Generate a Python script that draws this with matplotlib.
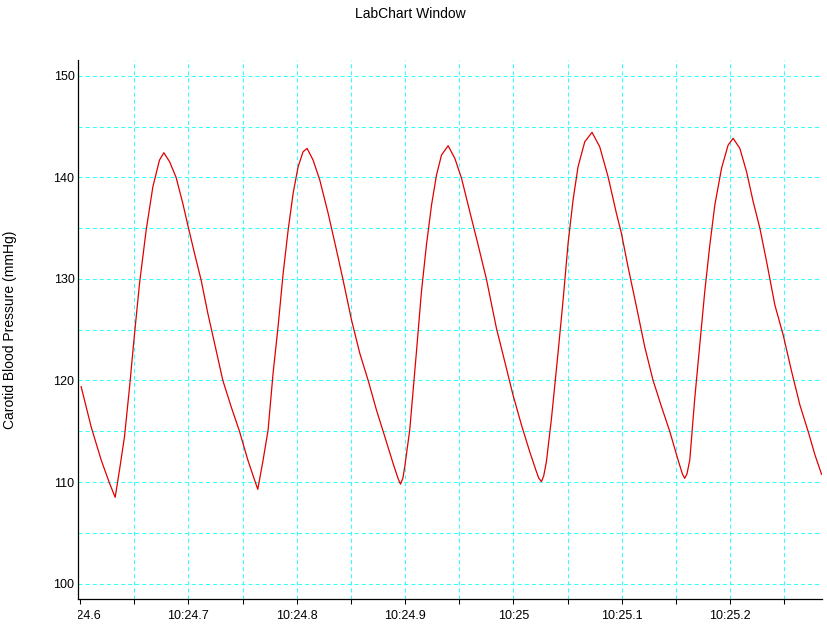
import matplotlib
matplotlib.use("Agg")
import matplotlib.pyplot as plt
from matplotlib.transforms import Bbox, TransformedBbox, blended_transform_factory, ScaledTranslation

plt.rcParams['font.family'] = ['Liberation Sans', 'DejaVu Sans']
plt.rcParams['lines.scale_dashes'] = False

# time in seconds (after 10 min) and carotid pressure (mmHg)
time_s = [
    24.6011, 24.6103, 24.6196, 24.6273, 24.6325, 24.6365, 24.6411, 24.6458,
    24.6504, 24.6550, 24.6611, 24.6673, 24.6734, 24.6774, 24.6827, 24.6887,
    24.6949, 24.7002, 24.7057, 24.7118, 24.7180, 24.7242, 24.7318, 24.7395,
    24.7472, 24.7549, 24.7611, 24.7641,
    24.7690, 24.7736, 24.7782, 24.7828, 24.7875, 24.7921, 24.7967, 24.8013,
    24.8059, 24.8096, 24.8151, 24.8213, 24.8290, 24.8367, 24.8428, 24.8506,
    24.8582, 24.8659, 24.8736, 24.8813, 24.8889, 24.8937, 24.8958, 24.8980,
    24.8997, 24.9043, 24.9105, 24.9151, 24.9197, 24.9244, 24.9290, 24.9336,
    24.9397, 24.9459, 24.9521, 24.9597, 24.9674, 24.9751, 24.9843, 24.9920,
    24.9996, 25.0074, 25.0150, 25.0212, 25.0233, 25.0258, 25.0279,
    25.0304, 25.0351, 25.0411, 25.0458, 25.0504, 25.0550, 25.0596, 25.0658,
    25.0725, 25.0796, 25.0873, 25.0950, 25.0996, 25.1057, 25.1135, 25.1211,
    25.1288, 25.1366, 25.1442, 25.1519, 25.1559, 25.1580, 25.1601,
    25.1627, 25.1673, 25.1719, 25.1765, 25.1812, 25.1858, 25.1920, 25.1981,
    25.2027, 25.2089, 25.2151, 25.2212, 25.2274, 25.2336, 25.2412, 25.2489,
    25.2567, 25.2643, 25.2720, 25.2782, 25.2843,
]
pressure = [
    119.39, 115.45, 112.17, 109.88, 108.50, 111.19, 114.47, 119.39,
    124.64, 129.57, 134.81, 139.08, 141.70, 142.42, 141.54, 140.00,
    137.44, 134.98, 132.52, 129.89, 126.61, 123.66, 120.02, 117.42,
    115.00, 112.17, 110.21, 109.29,
    112.17, 115.13, 120.71, 125.30, 130.55, 134.81, 138.43, 141.04,
    142.52, 142.85, 141.70, 139.73, 136.46, 132.84, 129.89, 125.95,
    122.68, 120.02, 117.09, 114.47, 111.85, 110.30, 109.80, 110.40,
    111.52, 115.13, 122.84, 128.74, 133.34, 137.27, 140.23, 142.19,
    143.11, 141.87, 139.90, 136.62, 133.34, 129.96, 125.14, 121.85,
    118.57, 115.62, 112.99, 111.02, 110.40, 110.04, 110.60,
    112.01, 116.28, 122.68, 127.92, 133.50, 137.77, 141.04, 143.50,
    144.43, 143.01, 140.06, 136.46, 134.49, 131.20, 127.26, 123.33,
    120.02, 117.42, 115.00, 112.17, 110.80, 110.37, 110.80,
    112.17, 118.25, 123.49, 128.74, 133.34, 137.27, 140.89, 143.18,
    143.84, 142.85, 140.55, 137.60, 134.98, 131.69, 127.43, 124.48,
    120.87, 117.59, 114.96, 112.67, 110.77,
]

x_major = [24.6, 24.7, 24.8, 24.9, 25.0, 25.1, 25.2]
x_labels = ["10:24.6", "10:24.7", "10:24.8", "10:24.9", "10:25", "10:25.1", "10:25.2"]
x_minor = [24.65, 24.75, 24.85, 24.95, 25.05, 25.15, 25.25]
y_major = [100, 110, 120, 130, 140, 150]
y_minor = [105, 115, 125, 135, 145]

W, H = 827, 628
fig = plt.figure(figsize=(W / 100, H / 100), dpi=100)
ax = fig.add_axes([78 / W, 1 - 599 / H, (822 - 78) / W, (599 - 60) / H])

ax.plot(time_s, pressure, color='#e00000', lw=0.9)

ax.set_xlim(24.5982, 25.2847)
ax.set_ylim(98.49, 151.55)

ax.set_xticks(x_major, [''] + x_labels[1:])
ax.set_xticks(x_minor, minor=True)
ax.set_yticks(y_major, [str(v) for v in y_major])
ax.set_yticks(y_minor, minor=True)

grid_kw = dict(color='#33ffff', lw=0.75, linestyle=(0, (2.9, 2.2)))
ax.grid(True, which='both', **grid_kw)
ax.xaxis.get_major_ticks()[0].gridline.set_visible(False)

for s in ['top', 'right']:
    ax.spines[s].set_visible(False)
for s in ['left', 'bottom']:
    ax.spines[s].set_linewidth(0.9)
    ax.spines[s].set_color('black')

ax.tick_params(axis='x', which='both', length=3.6, width=0.75, direction='out',
               pad=4, labelsize=9)
ax.tick_params(axis='y', which='both', length=0, pad=2.5, labelsize=9)

# first x label, clipped at the axes' left edge
clip = TransformedBbox(Bbox([[78 / W, 0], [1, 1]]), fig.transFigure)
trans = blended_transform_factory(ax.transData, ax.transAxes)
t0 = ax.text(x_major[0], 0, x_labels[0], ha='center', va='top',
             fontsize=9, clip_on=True,
             transform=trans + ScaledTranslation(0, -(3.6 + 4) / 72, fig.dpi_scale_trans))
t0.set_clip_box(clip)

fig.text(410 / W, 1 - 14 / H, "LabChart Window", ha='center', va='center', fontsize=10)
fig.text(10 / W, 1 - 330 / H, "Carotid Blood Pressure (mmHg)", rotation=90,
         ha='center', va='center', fontsize=10)

fig.savefig("out.png", dpi=100)
